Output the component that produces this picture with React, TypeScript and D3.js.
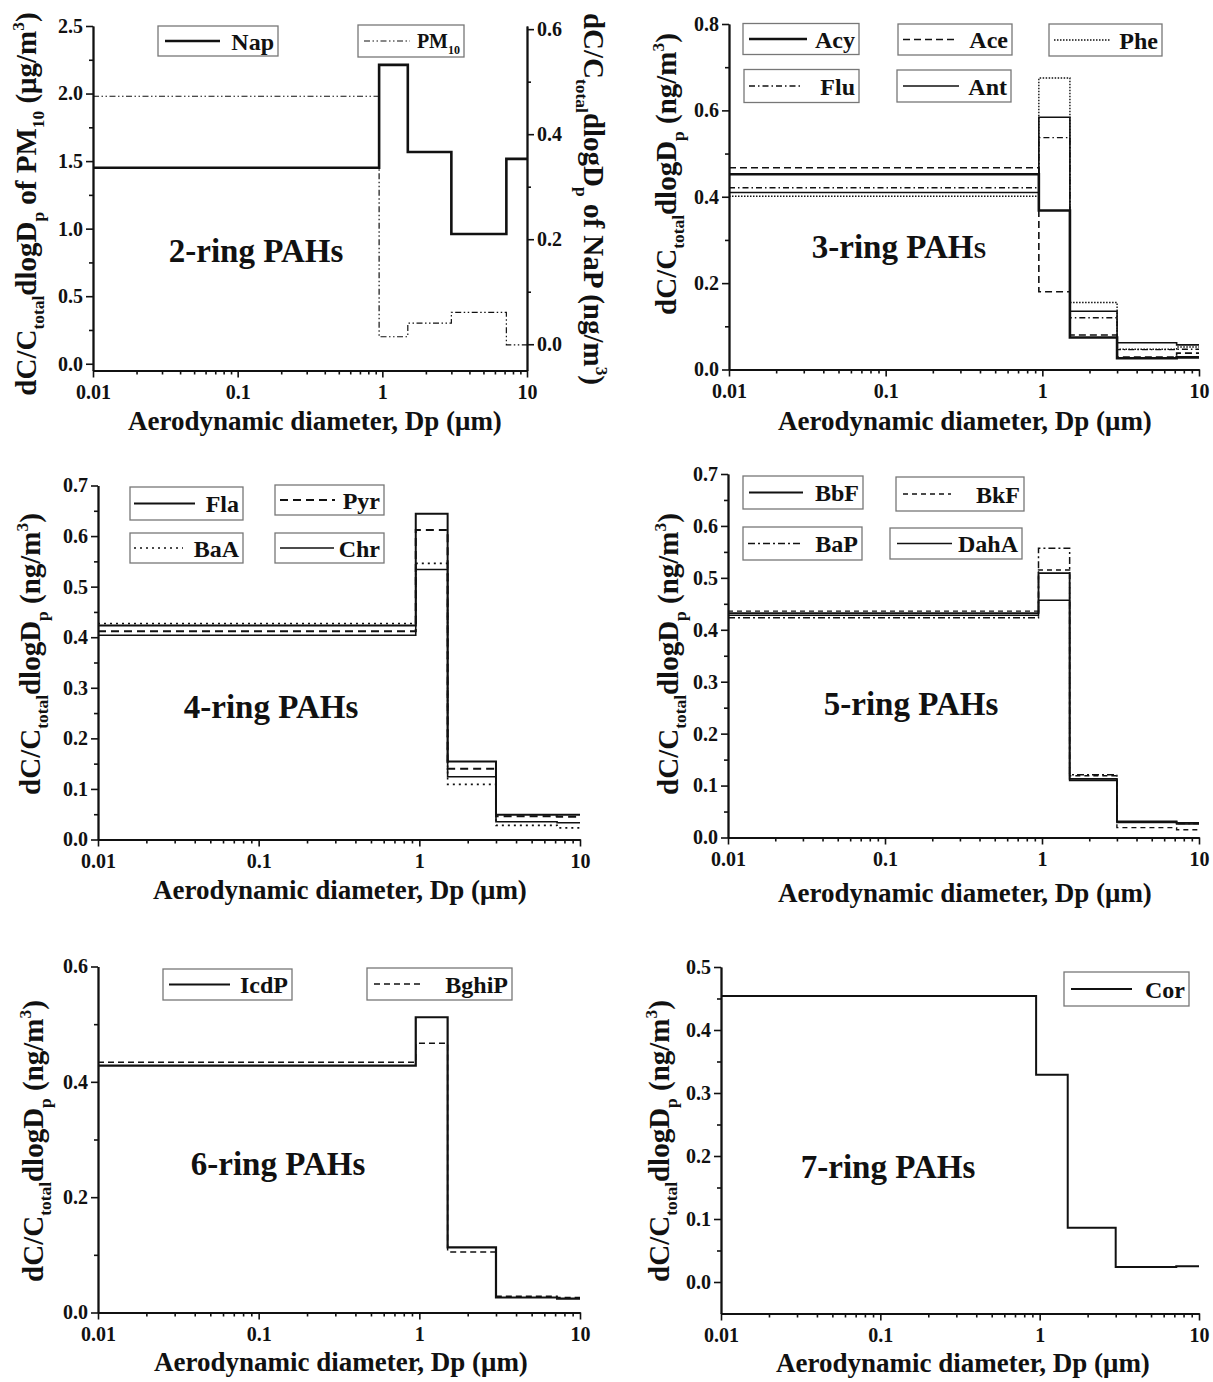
import { useEffect, useRef } from 'react';
import * as d3 from 'd3';

const FONT = "'Liberation Serif', 'Times New Roman', serif";

// Andersen stage cut points (µm), shared by every panel
const BIN_EDGES = [0.01, 0.95, 1.5, 3.0, 7.2, 10];
const X_TICKS = [0.01, 0.1, 1, 10];
const X_LABEL = 'Aerodynamic diameter, Dp (μm)';

// 2-ring
const NAP = [0.336, 0.532, 0.366, 0.21, 0.353];
const PM10 = [1.98, 0.2, 0.3, 0.38, 0.14];

// 3-ring
const ACY = [0.452, 0.368, 0.074, 0.026, 0.028];
const ACE = [0.467, 0.18, 0.08, 0.029, 0.038];
const PHE = [0.401, 0.675, 0.155, 0.047, 0.052];
const FLU = [0.421, 0.537, 0.12, 0.046, 0.047];
const ANT = [0.41, 0.584, 0.135, 0.062, 0.057];

// 4-ring
const FLA = [0.423, 0.644, 0.154, 0.049, 0.049];
const PYR = [0.412, 0.612, 0.14, 0.046, 0.045];
const BAA = [0.427, 0.546, 0.109, 0.028, 0.023];
const CHR = [0.404, 0.534, 0.124, 0.035, 0.033];

// 5-ring
const BBF = [0.432, 0.509, 0.113, 0.031, 0.028];
const BKF = [0.436, 0.515, 0.119, 0.019, 0.015];
const BAP = [0.423, 0.557, 0.121, 0.03, 0.027];
const DAHA = [0.428, 0.457, 0.11, 0.029, 0.026];

// 6-ring
const ICDP = [0.428, 0.512, 0.113, 0.026, 0.024];
const BGHIP = [0.434, 0.467, 0.105, 0.028, 0.026];

// 7-ring
const COR = [0.454, 0.329, 0.086, 0.024, 0.025];

// line styles
const ST = {
  thick: { w: 2.6, dash: null },
  solid: { w: 1.6, dash: null },
  mid: { w: 2.0, dash: null },
  dash: { w: 1.6, dash: '7,4' },
  shortDash: { w: 1.4, dash: '5,4' },
  dot: { w: 1.4, dash: '1.5,1.5' },
  sparseDot: { w: 1.6, dash: '2,4' },
  dashDot: { w: 1.4, dash: '6,3,1.5,3' },
  dashDotDot: { w: 1.2, dash: '6,2.5,1.5,2.5,1.5,2.5' },
};

const AX_FS = 27;
const YL_FS = 29;

const NG_LABEL = [['dC/C'], ['total', 'sub'], ['dlogD'], ['p', 'sub'], ['  (ng/m'], ['3', 'sup'], [')']];

const PANELS = [
  {
    title: '2-ring', tx: 256, ty: 262,
    x0: 93, x1: 527, y0: 26, y1: 370.5,
    yDomain: [-0.05, 2.5], yTicks: [0, 0.5, 1, 1.5, 2, 2.5], yMinor: [0.25, 0.75, 1.25, 1.75, 2.25],
    yLabel: [['dC/C'], ['total', 'sub'], ['dlogD'], ['p', 'sub'], [' of PM'], ['10', 'sub'], ['  (μg/m'], ['3', 'sup'], [')']],
    ylx: 36, yly: 204,
    right: {
      domain: [-0.05, 0.606], ticks: [0, 0.2, 0.4, 0.6], minor: [0.1, 0.3, 0.5],
      label: [['dC/C'], ['total', 'sub'], ['dlogD'], ['p', 'sub'], [' of NaP  (ng/m'], ['3', 'sup'], [')']],
      lx: 584, ly: 199,
    },
    xlx: 315, xly: 430,
    series: [
      { label: [['PM'], ['10', 'sub']], values: PM10, st: ST.dashDotDot, fs: 20, box: [358, 25, 106, 32], line: [364, 410] },
      { label: [['Nap']], values: NAP, st: ST.thick, axis: 'right', box: [158, 26, 120, 30], line: [165, 220] },
    ],
  },
  {
    title: '3-ring', small: true, tx: 899, ty: 258,
    x0: 729, x1: 1199, y0: 24, y1: 369.5,
    yDomain: [0, 0.8], yTicks: [0, 0.2, 0.4, 0.6, 0.8], yMinor: [0.1, 0.3, 0.5, 0.7],
    yLabel: NG_LABEL, ylx: 676, yly: 174,
    xlx: 965, xly: 430,
    series: [
      { label: [['Phe']], values: PHE, st: ST.dot, box: [1049, 24, 113, 32], line: [1054, 1111] },
      { label: [['Ace']], values: ACE, st: ST.dash, box: [898, 24, 114, 31], line: [903, 957] },
      { label: [['Flu']], values: FLU, st: ST.dashDot, box: [744, 69.5, 115, 33], line: [749, 803] },
      { label: [['Ant']], values: ANT, st: ST.solid, box: [897, 70, 114, 32], line: [903, 959] },
      { label: [['Acy']], values: ACY, st: ST.thick, box: [743, 23.5, 116, 31], line: [749, 807] },
    ],
  },
  {
    title: '4-ring', tx: 271, ty: 718,
    x0: 98, x1: 580, y0: 485.5, y1: 839.5,
    yDomain: [0, 0.7], yTicks: [0, 0.1, 0.2, 0.3, 0.4, 0.5, 0.6, 0.7],
    yMinor: [0.05, 0.15, 0.25, 0.35, 0.45, 0.55, 0.65],
    yLabel: NG_LABEL, ylx: 40, yly: 654,
    xlx: 340, xly: 899,
    series: [
      { label: [['BaA']], values: BAA, st: ST.sparseDot, box: [130, 533, 113, 30], line: [134, 183] },
      { label: [['Pyr']], values: PYR, st: { w: 2.0, dash: '8,5' }, box: [275, 485, 109, 30], line: [280, 335] },
      { label: [['Chr']], values: CHR, st: ST.solid, box: [275, 533, 109, 30], line: [280, 334] },
      { label: [['Fla']], values: FLA, st: ST.mid, box: [130, 487, 113, 33], line: [134, 195] },
    ],
  },
  {
    title: '5-ring', tx: 911, ty: 715,
    x0: 728, x1: 1199, y0: 474, y1: 837.5,
    yDomain: [0, 0.7], yTicks: [0, 0.1, 0.2, 0.3, 0.4, 0.5, 0.6, 0.7],
    yMinor: [0.05, 0.15, 0.25, 0.35, 0.45, 0.55, 0.65],
    yLabel: NG_LABEL, ylx: 678, yly: 654,
    xlx: 965, xly: 902,
    series: [
      { label: [['BaP']], values: BAP, st: { w: 1.5, dash: '7,3,2,3' }, box: [743, 527, 119, 33], line: [748, 802] },
      { label: [['BkF']], values: BKF, st: ST.shortDash, box: [896, 477, 128, 34], line: [903, 951] },
      { label: [['DahA']], values: DAHA, st: ST.solid, box: [890, 528, 132, 31], line: [897, 952] },
      { label: [['BbF']], values: BBF, st: { w: 1.8, dash: null }, box: [743, 476, 120, 33], line: [749, 803] },
    ],
  },
  {
    title: '6-ring', tx: 278, ty: 1175,
    x0: 98, x1: 580, y0: 966.5, y1: 1312.5,
    yDomain: [0, 0.6], yTicks: [0, 0.2, 0.4, 0.6], yMinor: [0.1, 0.3, 0.5],
    yLabel: NG_LABEL, ylx: 43, yly: 1141,
    xlx: 341, xly: 1371,
    series: [
      { label: [['BghiP']], values: BGHIP, st: { w: 1.5, dash: '6,4' }, box: [367, 968, 145, 32], line: [374, 424] },
      { label: [['IcdP']], values: ICDP, st: { w: 2.2, dash: null }, box: [163, 969, 129, 31], line: [169, 230] },
    ],
  },
  {
    title: '7-ring', tx: 888, ty: 1178,
    x0: 721, x1: 1199, y0: 967, y1: 1313.5,
    yDomain: [-0.05, 0.5], yTicks: [0, 0.1, 0.2, 0.3, 0.4, 0.5],
    yMinor: [0.05, 0.15, 0.25, 0.35, 0.45],
    yLabel: NG_LABEL, ylx: 669, yly: 1141,
    xlx: 963, xly: 1372,
    series: [
      { label: [['Cor']], values: COR, st: ST.mid, box: [1064, 972, 125, 34], line: [1071, 1132] },
    ],
  },
];

// write text parts with sub/superscripts as tspans
function richText(text, parts, fs) {
  let shift = 0;
  parts.forEach(([t, kind]) => {
    const target = kind === 'sub' ? fs * 0.28 : kind === 'sup' ? -fs * 0.42 : 0;
    const ts = text.append('tspan').text(t).attr('dy', target - shift);
    if (kind) ts.attr('font-size', fs * 0.6);
    shift = target;
  });
}

function styleAxis(sel) {
  sel.attr('font-family', FONT);
  sel.select('.domain').attr('stroke', '#111').attr('stroke-width', 1.8);
  sel.selectAll('.tick line').attr('stroke', '#111').attr('stroke-width', 1.6);
  sel.selectAll('.tick text')
    .attr('fill', '#111')
    .attr('font-size', 20)
    .attr('font-weight', 'bold')
    .attr('font-family', FONT);
}

function drawPanel(svg, p) {
  const g = svg.append('g');
  const x = d3.scaleLog().domain([0.01, 10]).range([p.x0, p.x1]);
  const y = d3.scaleLinear().domain(p.yDomain).range([p.y1, p.y0]);
  const yR = p.right ? d3.scaleLinear().domain(p.right.domain).range([p.y1, p.y0]) : null;
  const fmt = d3.format('.1f');

  // step series
  p.series.forEach(s => {
    const sc = s.axis === 'right' ? yR : y;
    const pts = BIN_EDGES.map((e, i) => [e, s.values[Math.min(i, s.values.length - 1)]]);
    const line = d3.line().x(d => x(d[0])).y(d => sc(d[1])).curve(d3.curveStepAfter);
    g.append('path')
      .attr('d', line(pts))
      .attr('fill', 'none')
      .attr('stroke', '#111')
      .attr('stroke-width', s.st.w)
      .attr('stroke-dasharray', s.st.dash);
  });

  // x axis
  const minorX = [0.01, 0.1, 1].flatMap(d => d3.range(2, 10).map(k => k * d));
  g.append('g').attr('transform', `translate(0,${p.y1})`)
    .call(d3.axisBottom(x).tickValues(minorX).tickSize(4).tickSizeOuter(0).tickFormat(() => ''))
    .call(styleAxis);
  g.append('g').attr('transform', `translate(0,${p.y1})`)
    .call(d3.axisBottom(x).tickValues(X_TICKS).tickSize(7).tickPadding(7).tickSizeOuter(0).tickFormat(d => String(d)))
    .call(styleAxis);

  // left y axis
  g.append('g').attr('transform', `translate(${p.x0},0)`)
    .call(d3.axisLeft(y).tickValues(p.yMinor).tickSize(4).tickSizeOuter(0).tickFormat(() => ''))
    .call(styleAxis);
  g.append('g').attr('transform', `translate(${p.x0},0)`)
    .call(d3.axisLeft(y).tickValues(p.yTicks).tickSize(7).tickPadding(3).tickSizeOuter(0).tickFormat(fmt))
    .call(styleAxis);

  // right y axis (2-ring only)
  if (p.right) {
    g.append('g').attr('transform', `translate(${p.x1},0)`)
      .call(d3.axisRight(yR).tickValues(p.right.minor).tickSize(4).tickSizeOuter(0).tickFormat(() => ''))
      .call(styleAxis);
    g.append('g').attr('transform', `translate(${p.x1},0)`)
      .call(d3.axisRight(yR).tickValues(p.right.ticks).tickSize(7).tickPadding(3).tickSizeOuter(0).tickFormat(fmt))
      .call(styleAxis);
    const rt = g.append('text')
      .attr('transform', `translate(${p.right.lx},${p.right.ly}) rotate(90)`)
      .attr('text-anchor', 'middle')
      .attr('font-family', FONT).attr('font-weight', 'bold').attr('font-size', YL_FS).attr('fill', '#111');
    richText(rt, p.right.label, YL_FS);
  }

  // axis titles
  g.append('text')
    .attr('x', p.xlx).attr('y', p.xly)
    .attr('text-anchor', 'middle')
    .attr('font-family', FONT).attr('font-weight', 'bold').attr('font-size', AX_FS).attr('fill', '#111')
    .text(X_LABEL);
  const yt = g.append('text')
    .attr('transform', `translate(${p.ylx},${p.yly}) rotate(-90)`)
    .attr('text-anchor', 'middle')
    .attr('font-family', FONT).attr('font-weight', 'bold').attr('font-size', YL_FS).attr('fill', '#111');
  richText(yt, p.yLabel, YL_FS);

  // panel title
  const tt = g.append('text')
    .attr('x', p.tx).attr('y', p.ty)
    .attr('text-anchor', 'middle')
    .attr('font-family', FONT).attr('font-weight', 'bold').attr('font-size', 33).attr('fill', '#111');
  tt.append('tspan').text(`${p.title} PAH`);
  tt.append('tspan').text('s').style('font-variant', p.small ? 'small-caps' : 'normal');

  // legend boxes
  p.series.forEach(s => {
    const [bx, by, bw, bh] = s.box;
    const cy = by + bh / 2;
    g.append('rect')
      .attr('x', bx).attr('y', by).attr('width', bw).attr('height', bh)
      .attr('fill', '#fff').attr('stroke', '#777').attr('stroke-width', 1.3);
    g.append('line')
      .attr('x1', s.line[0]).attr('x2', s.line[1]).attr('y1', cy).attr('y2', cy)
      .attr('stroke', '#111').attr('stroke-width', s.st.w).attr('stroke-dasharray', s.st.dash);
    const fs = s.fs || 24;
    const lt = g.append('text')
      .attr('x', bx + bw - 4).attr('y', cy + fs * 0.36)
      .attr('text-anchor', 'end')
      .attr('font-family', FONT).attr('font-weight', 'bold').attr('font-size', fs).attr('fill', '#111');
    richText(lt, s.label, fs);
  });
}

export default function App() {
  const svgRef = useRef(null);

  useEffect(() => {
    if (!svgRef.current) return;
    const svg = d3.select(svgRef.current);
    svg.selectAll('*').remove();
    PANELS.forEach(p => drawPanel(svg, p));
  }, []);

  return (
    <svg
      ref={svgRef}
      width={1213}
      height={1382}
      style={{ position: 'absolute', left: 0, top: 0, background: '#fff', display: 'block' }}
    />
  );
}
